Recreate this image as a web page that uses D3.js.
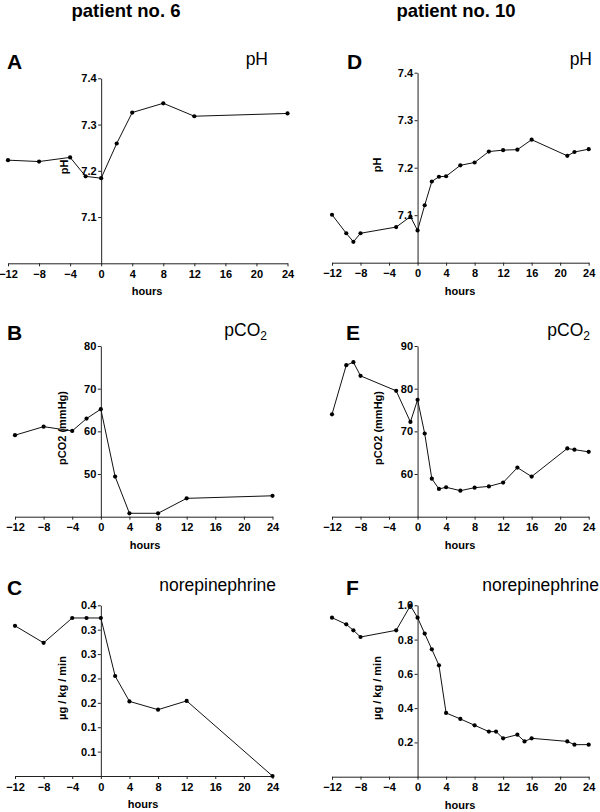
<!DOCTYPE html>
<html>
<head>
<meta charset="utf-8">
<script src="https://cdn.jsdelivr.net/npm/d3@7"></script>
<style>
  html, body { margin: 0; padding: 0; background: #fff; }
  svg { display: block; }
  text { font-family: Arial, "Liberation Sans", sans-serif; fill: #000; }
</style>
</head>
<body>
<svg id="chart" width="600" height="812"></svg>
<script>
// ---------- DATA ----------
const xTickValues = [-12, -8, -4, 0, 4, 8, 12, 16, 20, 24];

// Patient no. 6
const p6Hours = [-12, -8, -4, -2, 0, 2, 4, 8, 12, 24];
const p6pH = [7.223, 7.220, 7.229, 7.188, 7.184, 7.259, 7.326, 7.346, 7.318, 7.324];
const p6pCO2 = [59.1, 61.1, 60.1, 63.0, 65.2, 49.4, 40.8, 40.8, 44.3, 44.9];
const p6NE = [0.358, 0.323, 0.374, 0.374, 0.374, 0.255, 0.203, 0.186, 0.204, 0.05];

// Patient no. 10
const p10Hours = [-12, -10, -9, -8, -3, -1, 0, 1, 2, 3, 4, 6, 8, 10, 12, 14, 16, 21, 22, 24];
const p10pH = [7.101, 7.062, 7.044, 7.062, 7.075, 7.097, 7.068, 7.121, 7.171, 7.181, 7.182,
               7.205, 7.211, 7.234, 7.237, 7.238, 7.259, 7.225, 7.233, 7.239];
const p10pCO2 = [74.0, 85.5, 86.2, 83.0, 79.5, 72.2, 77.4, 69.5, 58.9, 56.5, 56.9,
                 56.1, 56.8, 57.1, 58.0, 61.5, 59.4, 66.0, 65.7, 65.2];
const p10NEHours = [-12, -10, -9, -8, -3, -1, 0, 1, 2, 3, 4, 6, 8, 10, 11, 12, 14, 15, 16, 21, 22, 24];
const p10NE = [0.928, 0.889, 0.854, 0.815, 0.854, 0.998, 0.928, 0.835, 0.743, 0.650, 0.372,
               0.337, 0.300, 0.263, 0.263, 0.224, 0.245, 0.206, 0.224, 0.206, 0.187, 0.187];

// Tick values and labels
const pHTicks = [7.1, 7.2, 7.3, 7.4];
const pHTickLabels = ["7.1", "7.2", "7.3", "7.4"];
const p6pCO2Ticks = [50, 60, 70, 80];
const p10pCO2Ticks = [60, 70, 80, 90];
const p6NETicks = [0.1, 0.15, 0.2, 0.25, 0.3, 0.35, 0.4];
const p6NETickLabels = ["0.1", "0.1", "0.2", "0.2", "0.3", "0.3", "0.4"];
const p10NETicks = [0.2, 0.4, 0.6, 0.8, 1.0];
const p10NETickLabels = ["0.2", "0.4", "0.6", "0.8", "1.0"];

const patientTitles = ["patient no. 6", "patient no. 10"];

// ---------- DRAW ----------
const svg = d3.select("#chart");

svg.append("text").attr("x", 126).attr("y", 17).attr("text-anchor", "middle")
  .style("font-size", "18.5px").style("font-weight", "bold").text(patientTitles[0]);
svg.append("text").attr("x", 456).attr("y", 17).attr("text-anchor", "middle")
  .style("font-size", "18.5px").style("font-weight", "bold").text(patientTitles[1]);

function panel(cfg) {
  const x = d3.scaleLinear().domain([-12, 24]).range(cfg.xr);
  const y = d3.scaleLinear().domain(cfg.yd).range(cfg.yr);
  const g = svg.append("g");

  // x axis
  const xa = g.append("g").attr("transform", `translate(0,${cfg.yr[0]})`)
    .call(d3.axisBottom(x).tickValues(xTickValues).tickSizeInner(3).tickSizeOuter(0).tickPadding(4));
  // y axis
  const ya = g.append("g").attr("transform", `translate(${x(0)},0)`)
    .call(d3.axisLeft(y).tickValues(cfg.yTicks).tickFormat((d, i) => cfg.yLabels[i])
      .tickSizeInner(3).tickSizeOuter(0).tickPadding(1.5));
  [xa, ya].forEach(a => {
    a.attr("font-family", null).attr("font-size", null);
    a.selectAll("text").style("font-size", "11px").style("font-weight", "bold");
    a.selectAll("path, line").attr("stroke", "#222").attr("stroke-width", 1);
  });

  // line + points
  const pts = cfg.xs.map((h, i) => [h, cfg.ys[i]]);
  g.append("path").datum(pts)
    .attr("fill", "none").attr("stroke", "#111").attr("stroke-width", 1)
    .attr("d", d3.line().x(d => x(d[0])).y(d => y(d[1])));
  g.selectAll("circle").data(pts).join("circle")
    .attr("cx", d => x(d[0])).attr("cy", d => y(d[1])).attr("r", 2.1).attr("fill", "#000");

  // labels
  g.append("text").attr("x", cfg.hx).attr("y", cfg.yr[0] + 32).attr("text-anchor", "middle")
    .style("font-size", "11px").style("font-weight", "bold").text("hours");
  g.append("text").attr("transform", `translate(${cfg.ylx},${cfg.yly}) rotate(-90)`)
    .attr("text-anchor", "middle").attr("dy", "0.35em")
    .style("font-size", "11px").style("font-weight", "bold").text(cfg.yTitle);
  g.append("text").attr("x", cfg.lx).attr("y", cfg.ly)
    .style("font-size", "21px").style("font-weight", "bold").text(cfg.letter);
  const t = g.append("text").attr("x", cfg.tx).attr("y", cfg.ly - 4)
    .attr("text-anchor", "end").style("font-size", "17.5px");
  t.append("tspan").text(cfg.title);
  if (cfg.sub) {
    t.append("tspan").attr("dy", 4).style("font-size", "12px").text(cfg.sub);
  }
}

panel({ letter: "A", title: "pH", xs: p6Hours, ys: p6pH, xr: [8, 287.5], yd: [7.0, 7.4], yr: [263.3, 78.3],
  yTicks: pHTicks, yLabels: pHTickLabels, yTitle: "pH", ylx: 64, yly: 167, hx: 147,
  lx: 7, ly: 69, tx: 268 });
panel({ letter: "D", title: "pH", xs: p10Hours, ys: p10pH, xr: [332, 588.7], yd: [7.0, 7.4], yr: [262.7, 72.7],
  yTicks: pHTicks, yLabels: pHTickLabels, yTitle: "pH", ylx: 377, yly: 165, hx: 460,
  lx: 347, ly: 69, tx: 592 });
panel({ letter: "B", title: "pCO", sub: "2", xs: p6Hours, ys: p6pCO2, xr: [15, 272.5], yd: [40, 80], yr: [516.7, 346],
  yTicks: p6pCO2Ticks, yLabels: p6pCO2Ticks.map(String), yTitle: "pCO2 (mmHg)", ylx: 62, yly: 428, hx: 145,
  lx: 7, ly: 340, tx: 267 });
panel({ letter: "E", title: "pCO", sub: "2", xs: p10Hours, ys: p10pCO2, xr: [332, 588.7], yd: [50, 90], yr: [516.7, 346],
  yTicks: p10pCO2Ticks, yLabels: p10pCO2Ticks.map(String), yTitle: "pCO2 (mmHg)", ylx: 378, yly: 428, hx: 460,
  lx: 346, ly: 340, tx: 590 });
panel({ letter: "C", title: "norepinephrine", xs: p6Hours, ys: p6NE, xr: [15, 272.5], yd: [0.05, 0.4], yr: [776, 605.3],
  yTicks: p6NETicks, yLabels: p6NETickLabels, yTitle: "µg / kg / min", ylx: 62, yly: 688, hx: 143,
  lx: 7, ly: 595, tx: 276 });
panel({ letter: "F", title: "norepinephrine", xs: p10NEHours, ys: p10NE, xr: [332, 588.7], yd: [0, 1.0], yr: [776.7, 605.3],
  yTicks: p10NETicks, yLabels: p10NETickLabels, yTitle: "µg / kg / min", ylx: 377, yly: 688, hx: 460,
  lx: 346, ly: 595, tx: 599 });
</script>
</body>
</html>
